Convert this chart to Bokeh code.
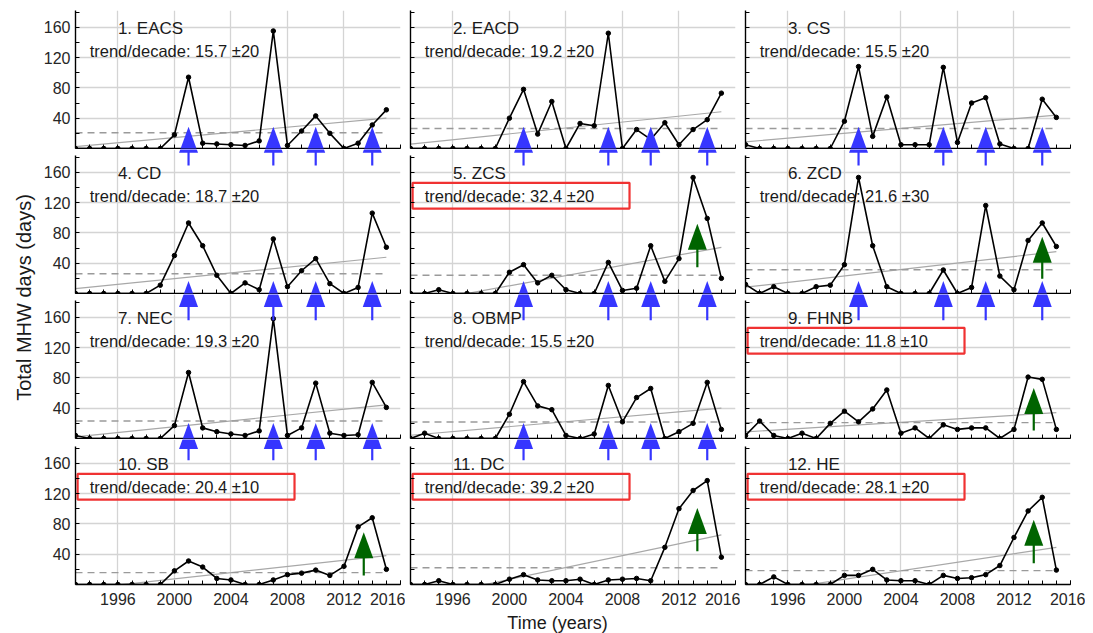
import math
from bokeh.plotting import figure
from bokeh.layouts import gridplot, row, column
from bokeh.models import Range1d, FixedTicker, PolyAnnotation
from bokeh.core.properties import value
from bokeh.embed import file_html
from bokeh.resources import INLINE

# ---------------- data ----------------
years = list(range(1993, 2016))

titles = ["1. EACS", "2. EACD", "3. CS", "4. CD", "5. ZCS", "6. ZCD",
          "7. NEC", "8. OBMP", "9. FHNB", "10. SB", "11. DC", "12. HE"]
trend_per_decade = [15.7, 19.2, 15.5, 18.7, 32.4, 21.6, 19.3, 15.5, 11.8, 20.4, 39.2, 28.1]
trend_err = [20, 20, 20, 20, 20, 30, 20, 20, 10, 10, 20, 20]
boxed = [False, False, False, False, True, False, False, False, True, True, True, True]

eacs = [0, 0, 0, 0, 0, 0, 0, 18, 94, 7, 6, 5, 4, 10, 155, 4, 23, 43, 20, 0, 7, 31, 51]
eacd = [0, 0, 0, 0, 0, 0, 0, 40, 78, 19, 62, 0, 33, 30, 152, 0, 25, 12, 34, 5, 25, 38, 73]
cs = [5, 0, 0, 0, 0, 0, 0, 36, 108, 16, 68, 5, 5, 5, 107, 8, 60, 67, 6, 0, 0, 65, 41]
cd = [0, 0, 0, 0, 0, 0, 11, 50, 93, 63, 24, 0, 14, 5, 72, 9, 30, 46, 13, 0, 8, 106, 61]
zcs = [0, 0, 5, 0, 0, 0, 0, 28, 38, 14, 24, 5, 0, 0, 41, 4, 7, 63, 16, 46, 153, 99, 20]
zcd = [12, 0, 9, 0, 0, 9, 11, 38, 153, 63, 9, 0, 0, 0, 31, 0, 8, 116, 23, 5, 70, 93, 62]
nec = [4, 0, 0, 0, 0, 0, 0, 17, 87, 14, 9, 6, 4, 10, 158, 4, 14, 73, 7, 4, 5, 74, 41]
obmp = [0, 7, 0, 0, 0, 0, 0, 32, 75, 43, 38, 4, 0, 6, 70, 22, 54, 66, 0, 9, 20, 74, 12]
fhnb = [4, 23, 4, 0, 7, 0, 20, 36, 22, 39, 64, 7, 14, 0, 18, 12, 14, 14, 0, 12, 81, 78, 12]
sb = [0, 0, 0, 0, 0, 0, 0, 18, 31, 23, 8, 6, 0, 0, 6, 13, 15, 19, 12, 24, 76, 88, 20]
dc = [0, 0, 5, 0, 0, 0, 0, 7, 13, 6, 5, 5, 7, 0, 6, 7, 8, 5, 49, 100, 124, 137, 36]
he = [0, 0, 10, 0, 0, 0, 0, 12, 12, 20, 6, 5, 5, 0, 12, 8, 9, 13, 25, 62, 97, 115, 19]
series = [eacs, eacd, cs, cd, zcs, zcd, nec, obmp, fhnb, sb, dc, he]

mean_vals = [20.7, 26.4, 26.4, 26.0, 24.0, 31.3, 23.0, 21.7, 21.0, 15.7, 22.0, 18.3]
trend_start = [2.6, 5.7, 8.8, 6.5, -13.5, 8.3, 2.2, 4.3, 8.7, -6.9, -20.7, -12.8]   # at 1993
trend_end = [40.0, 48.5, 44.0, 47.8, 60.9, 55.2, 44.3, 40.0, 34.0, 38.0, 65.5, 49.0]  # at 2015

blue_years = [2001, 2007, 2010, 2014]
blue_panels = [0, 1, 2, 3, 4, 5, 6, 7]
blue_tip = [28.6, 16.6, 20.6]      # per row
blue_tail = [-22.4, -35.2, -28.6]  # per row

green_panels = [4, 5, 8, 9, 10, 11]
green_year = [2013.3, 2014.0, 2013.4, 2013.4, 2013.3, 2013.4]
green_tip = [92, 75, 66.5, 69, 101, 85.4]
green_tail = [34.7, 19.4, 10.6, 12, 44, 28]

box_x = [1993.15, 2008.5]
box_y = [112, 146]

x_major = [1996, 2000, 2004, 2008, 2012, 2016]
x_minor = list(range(1993, 2017))
y_major = [40, 80, 120, 160]
y_minor = [20, 60, 100, 140, 180]

# ---------------- layout ----------------
FONT_NAME = "Liberation Sans"
FONT = value(FONT_NAME)
FRAME_W = 325
X0, X1 = 1993, 2016
Y_TOP = 182                      # top of the drawn y axis
UY = Y_TOP / 138.0               # data units per pixel (y)
UX = (X1 - X0) / FRAME_W         # data units per pixel (x)
col_left = [37, 5, 5]
col_right = [5, 5, 15]
row_top = [10, 0, 0, 0]
row_frame = [138, 144, 144, 145]
row_bottom = [1, 1, 1, 27]
row_h = [row_top[r] + row_frame[r] + row_bottom[r] for r in range(4)]
GRID_H = sum(row_h)
pitch_units = [(row_bottom[r] + row_frame[r + 1]) * UY for r in range(3)]
YL_W = 38
XL_H = 22
TOTAL_W = YL_W + sum(col_left[c] + FRAME_W + col_right[c] for c in range(3))

BLUE = "#3636ff"
GREEN = "#006400"
RED = "#f03232"
GRAY = "#a8a8a8"
DASH_GRAY = "#9a9a9a"
TXT = "#1a1a1a"


def draw_arrow(p, x, tip, tail, color, dy=0.0):
    head_l = 26 * UY
    half_w = 9.5 * UX
    stem_half = 1.1 * UX
    base = tip - head_l
    p.add_layout(PolyAnnotation(
        xs=[x - stem_half, x + stem_half, x + stem_half, x - stem_half],
        ys=[tail + dy, tail + dy, base + dy + 1, base + dy + 1],
        fill_color=color, fill_alpha=1.0, line_color=None, level="overlay"))
    p.add_layout(PolyAnnotation(
        xs=[x - half_w, x + half_w, x],
        ys=[base + dy, base + dy, tip + dy],
        fill_color=color, fill_alpha=1.0, line_color=None, level="overlay"))


figs = []
for i in range(12):
    r, c = divmod(i, 3)
    p = figure(width=col_left[c] + FRAME_W + col_right[c], height=row_h[r],
               x_range=Range1d(X0, X1), y_range=Range1d(0, row_frame[r] * UY),
               output_backend="svg", toolbar_location=None,
               min_border_left=col_left[c], min_border_right=col_right[c],
               min_border_top=row_top[r], min_border_bottom=row_bottom[r])
    p.outline_line_color = None
    p.background_fill_color = "white"
    p.border_fill_color = "white"

    if r == 3:
        p.xaxis.ticker = FixedTicker(ticks=x_major, minor_ticks=x_minor)
    else:
        p.xaxis.ticker = FixedTicker(ticks=[], minor_ticks=x_minor)
    if c == 0:
        p.yaxis.ticker = FixedTicker(ticks=y_major, minor_ticks=y_minor)
    else:
        p.yaxis.ticker = FixedTicker(ticks=[], minor_ticks=sorted(y_major + y_minor))
    p.yaxis.bounds = (0, Y_TOP)
    p.xgrid.ticker = FixedTicker(ticks=x_major)
    p.ygrid.ticker = FixedTicker(ticks=y_major)
    for ax in (p.xaxis, p.yaxis):
        ax.axis_line_color = "black"
        ax.axis_line_width = 1.4
        ax.major_tick_line_color = "black"
        ax.minor_tick_line_color = "black"
        ax.major_tick_in = 4
        ax.major_tick_out = 0
        ax.minor_tick_in = 4
        ax.minor_tick_out = 0
        ax.major_label_text_font = FONT_NAME
        ax.major_label_text_color = "#262626"
        ax.major_label_text_font_size = "16px"
    p.xaxis.major_label_standoff = 8
    p.yaxis.major_label_standoff = 5

    p.grid.grid_line_color = "#d4d4d4"
    p.grid.grid_line_width = 1.3

    vals = series[i]
    p.line([years[0], years[-1]], [trend_start[i], trend_end[i]], line_color=GRAY, line_width=1.2)
    p.line([years[0], years[-1]], [mean_vals[i], mean_vals[i]], line_color=DASH_GRAY,
           line_width=1.4, line_dash="7 5")
    p.line(years, vals, line_color="black", line_width=1.6)
    p.scatter(years, vals, size=4.5, color="black")

    p.text(x=[1996], y=[158], text=[titles[i]], text_font=FONT, text_font_size="17px",
           text_align="left", text_baseline="middle", text_color=TXT)
    p.text(x=[1994], y=[128],
           text=["trend/decade: %.1f \u00b1%d" % (trend_per_decade[i], trend_err[i])],
           text_font=FONT, text_font_size="16.5px", text_align="left",
           text_baseline="middle", text_color=TXT)
    if boxed[i]:
        p.quad(left=[box_x[0]], right=[box_x[1]], bottom=[box_y[0]], top=[box_y[1]],
               fill_alpha=0, line_color=RED, line_width=2.2)
    figs.append(p)

# arrows (blue arrows overflow into the panel below, so they are drawn in both)
for i in blue_panels:
    r = i // 3
    for x in blue_years:
        draw_arrow(figs[i], x, blue_tip[r], blue_tail[r], BLUE)
        if i + 3 < 12:
            draw_arrow(figs[i + 3], x, blue_tip[r], blue_tail[r], BLUE, dy=pitch_units[r])
for k, i in enumerate(green_panels):
    draw_arrow(figs[i], green_year[k], green_tip[k], green_tail[k], GREEN)


def text_strip(w, h):
    f = figure(width=w, height=h, x_range=Range1d(0, w), y_range=Range1d(0, h),
               x_axis_type=None, y_axis_type=None, output_backend="svg",
               toolbar_location=None, min_border=0)
    f.outline_line_color = None
    f.grid.visible = False
    return f


# y axis title
yl = text_strip(YL_W, GRID_H)
yl.text(x=[23], y=[GRID_H - 297], text=["Total MHW days (days)"], angle=math.pi / 2,
        text_font=FONT, text_font_size="20px", text_align="center",
        text_baseline="middle", text_color=TXT)

# x axis title
xl = text_strip(TOTAL_W, XL_H)
xl.text(x=[557], y=[XL_H - (622 - GRID_H)], text=["Time (years)"],
        text_font=FONT, text_font_size="18px", text_align="center",
        text_baseline="middle", text_color=TXT)

grid = gridplot([figs[0:3], figs[3:6], figs[6:9], figs[9:12]], toolbar_location=None)
layout = column(row(yl, grid), xl)

open("out.html", "w").write(file_html(layout, INLINE))
